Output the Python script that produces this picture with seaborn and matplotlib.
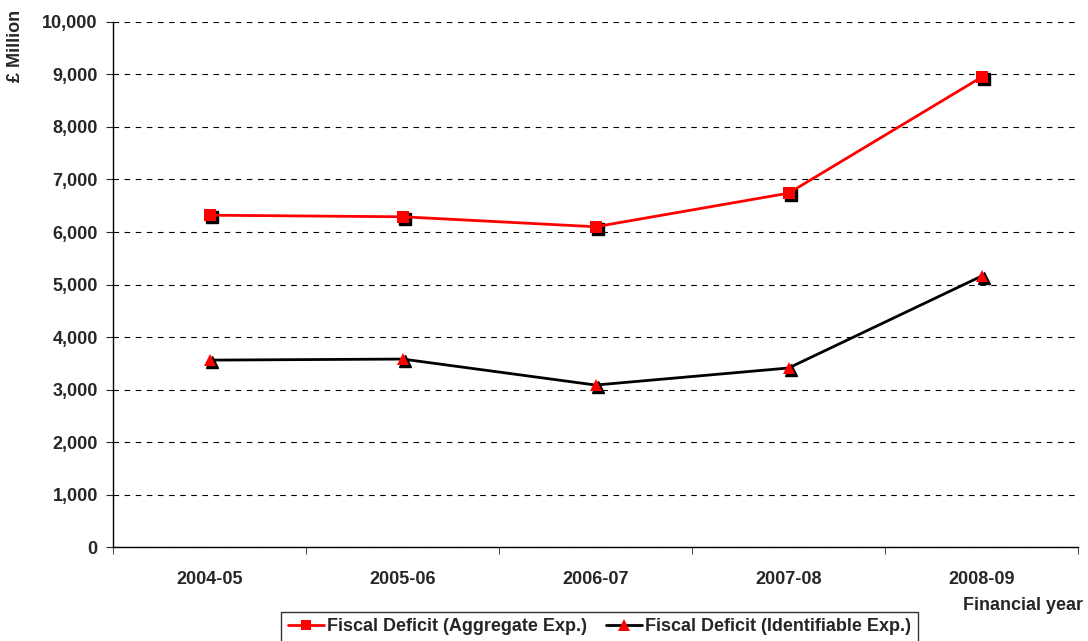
import matplotlib
matplotlib.use("Agg")
import matplotlib.pyplot as plt
import matplotlib.transforms as mtransforms
from matplotlib.lines import Line2D
from matplotlib.ticker import FuncFormatter, FixedLocator
import pandas as pd
import seaborn as sns

# Datos
years = ["2004-05", "2005-06", "2006-07", "2007-08", "2008-09"]
aggregate = [6320, 6290, 6100, 6740, 8950]
identifiable = [3560, 3580, 3085, 3410, 5160]
series = ["Fiscal Deficit (Aggregate Exp.)", "Fiscal Deficit (Identifiable Exp.)"]

sns.set_style("white")
plt.rcParams["font.family"] = ["Liberation Sans", "DejaVu Sans"]
plt.rcParams["font.weight"] = "bold"

df = pd.DataFrame({
    "x": list(range(len(years))) * 2,
    "valor": aggregate + identifiable,
    "serie": [series[0]] * 5 + [series[1]] * 5,
})

fig = plt.figure(figsize=(10.88, 6.41), dpi=100)
ax = fig.add_axes([0.1039, 0.1466, 0.887, 0.8191])

# sombra negra de los marcadores
sombra = ax.transData + mtransforms.ScaledTranslation(2 / 100, -2 / 100, fig.dpi_scale_trans)
ax.plot(range(5), aggregate, "s", color="black", markersize=8, transform=sombra, zorder=3)
ax.plot(range(5), identifiable, "^", color="black", markersize=9, transform=sombra, zorder=3)

sns.lineplot(data=df, x="x", y="valor", hue="serie", style="serie",
             palette=["#ff0000", "black"], markers=["s", "^"], dashes=False,
             markersize=8, linewidth=2, markeredgewidth=0, ax=ax, zorder=4, legend=False)
# triangulos rojos sobre la linea negra
ax.lines[3].set_markerfacecolor("#ff0000")
ax.lines[3].set_markersize(9)

ax.set_xlim(-0.5, 4.5)
ax.set_ylim(0, 10000)
ax.set_yticks(range(0, 10001, 1000))
ax.yaxis.set_major_formatter(FuncFormatter(lambda v, p: f"{int(v):,}"))
ax.set_xticks(range(5))
ax.set_xticklabels(years)
ax.xaxis.set_minor_locator(FixedLocator([-0.5, 0.5, 1.5, 2.5, 3.5, 4.5]))
ax.tick_params(axis="x", which="major", length=0, pad=17, labelsize=13)
ax.tick_params(axis="x", which="minor", length=5, direction="out", bottom=True)
ax.tick_params(axis="y", length=5, direction="out", left=True, labelsize=13, pad=6)

ax.yaxis.grid(True, color="black", linestyle=(0, (5, 5)), linewidth=0.8)
for s in ["top", "right"]:
    ax.spines[s].set_visible(False)
for s in ["left", "bottom"]:
    ax.spines[s].set_color("black")
    ax.spines[s].set_linewidth(1)

ax.set_xlabel("")
ax.set_ylabel("")
fig.text(0.995, 0.055, "Financial year", ha="right", va="center", fontsize=13, fontweight="bold")
fig.text(0.014, 0.985, "£ Million", ha="center", va="top", rotation=90, fontsize=13, fontweight="bold")

handles = [
    Line2D([], [], color="#ff0000", lw=2, marker="s", markersize=7, markeredgewidth=0),
    Line2D([], [], color="black", lw=2, marker="^", markersize=8, markerfacecolor="#ff0000",
           markeredgewidth=0),
]
leg = fig.legend(handles, series, loc="upper center", bbox_to_anchor=(0.551, 0.0452),
                 borderaxespad=0, ncol=2, frameon=True, fancybox=False,
                 prop={"size": 13, "weight": "bold"},
                 handlelength=2, columnspacing=1.0, handletextpad=0.2, borderpad=0.35)
leg.get_frame().set_edgecolor("black")
leg.get_frame().set_linewidth(1)

plt.savefig("out.png", dpi=100)
